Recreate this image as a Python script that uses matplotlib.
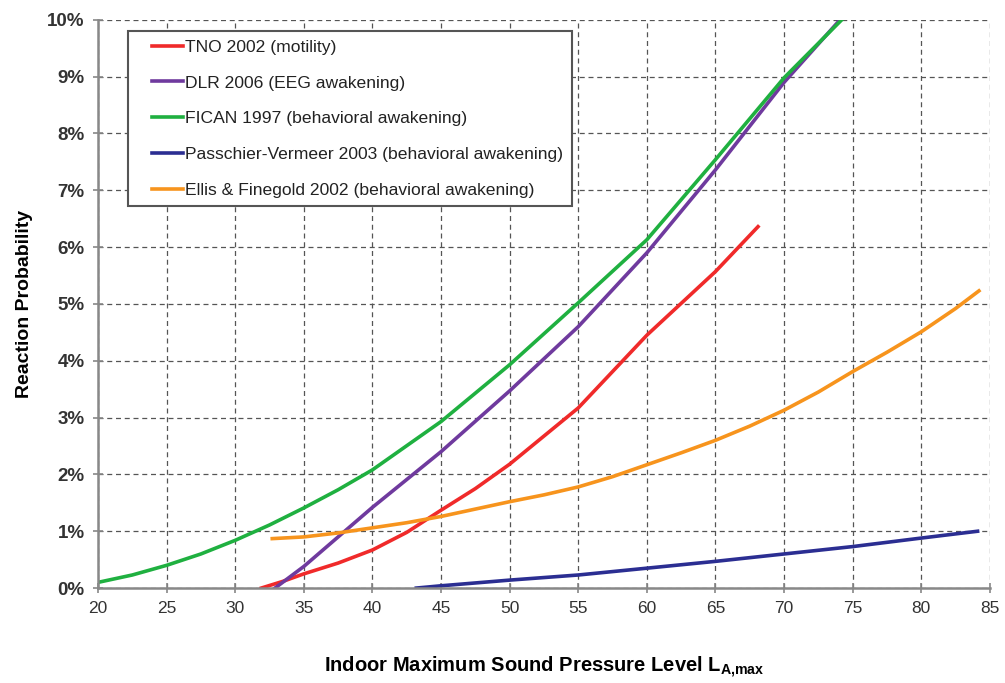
import numpy as np
from matplotlib import pyplot as plt
from matplotlib.lines import Line2D
from matplotlib.legend_handler import HandlerLine2D

plt.rcParams['font.family'] = ['Liberation Sans', 'DejaVu Sans']
plt.rcParams['mathtext.fontset'] = 'custom'
plt.rcParams['mathtext.rm'] = 'Liberation Sans:bold'
plt.rcParams['mathtext.it'] = 'Liberation Sans:bold'
plt.rcParams['mathtext.bf'] = 'Liberation Sans:bold'

# TNO 2002 (motility)
tno_x = [31.9, 33.5, 35, 37.5, 40, 42.5, 45, 47.5, 50, 55, 60, 65, 68.1]
tno_y = [0.0, 0.12, 0.25, 0.44, 0.67, 0.98, 1.37, 1.75, 2.18, 3.17, 4.45, 5.57, 6.36]

# DLR 2006 (EEG awakening)
dlr_x = [32.9, 35, 40, 45, 50, 55, 60, 65, 70, 74.0]
dlr_y = [0.0, 0.38, 1.42, 2.4, 3.47, 4.6, 5.9, 7.36, 8.9, 9.98]

# FICAN 1997 (behavioral awakening)
fican_x = [20, 22.5, 25, 27.5, 30, 32.5, 35, 37.5, 40, 45, 50, 55, 60, 65, 70, 74.2]
fican_y = [0.1, 0.23, 0.4, 0.6, 0.84, 1.11, 1.41, 1.73, 2.08, 2.93, 3.93, 5.02, 6.13, 7.54, 8.98, 10.0]

# Passchier-Vermeer 2003 (behavioral awakening)
pv_x = [43.2, 45, 50, 55, 60, 65, 70, 75, 80, 84.1]
pv_y = [0.0, 0.04, 0.14, 0.23, 0.35, 0.47, 0.6, 0.73, 0.88, 1.0]

# Ellis & Finegold 2002 (behavioral awakening)
ef_x = [32.7, 35, 37.5, 40, 42.5, 45, 47.5, 50, 52.5, 55, 57.5, 60, 62.5, 65,
        67.5, 70, 72.5, 75, 77.5, 80, 82.5, 84.2]
ef_y = [0.87, 0.9, 0.97, 1.06, 1.15, 1.26, 1.39, 1.52, 1.64, 1.78, 1.96, 2.17, 2.38, 2.6,
        2.85, 3.13, 3.45, 3.81, 4.15, 4.51, 4.92, 5.23]

plt.figure(1, figsize=(10.05, 6.83), dpi=100)
ax = plt.axes([0.0975, 0.139, 0.8875, 0.832])

ax.plot(tno_x, tno_y, color='#f02a2a', lw=2.6, label='TNO 2002 (motility)')
ax.plot(dlr_x, dlr_y, color='#6f3a9e', lw=2.6, label='DLR 2006 (EEG awakening)')
ax.plot(fican_x, fican_y, color='#1fb040', lw=2.6, label='FICAN 1997 (behavioral awakening)')
ax.plot(pv_x, pv_y, color='#2b2e92', lw=2.6, label='Passchier-Vermeer 2003 (behavioral awakening)')
ax.plot(ef_x, ef_y, color='#f7941d', lw=2.6, label='Ellis & Finegold 2002 (behavioral awakening)')

ax.set_xlim(20, 85)
ax.set_ylim(0, 10)
ax.set_xticks(range(20, 90, 5))
ax.set_yticks(range(0, 11))
ax.set_yticklabels([str(v) + '%' for v in range(0, 11)])

ax.grid(True, linestyle=(0, (4, 3)), color='#555555', lw=0.9)
for s in ['top', 'right']:
    ax.spines[s].set_visible(False)
for s in ['left', 'bottom']:
    ax.spines[s].set_color('#888888')
    ax.spines[s].set_linewidth(1.8)
ax.tick_params(direction='inout', length=7, width=1.2, color='#888888',
               labelsize=12.5, labelcolor='#333333', pad=6)
for t in ax.get_yticklabels():
    t.set_fontweight('bold')
    t.set_fontsize(13.5)

ax.set_ylabel('Reaction Probability', fontsize=14, fontweight='bold', labelpad=10)
ax.set_xlabel(r'Indoor Maximum Sound Pressure Level L$_{A{,}max}$', fontsize=14.5,
              fontweight='bold', labelpad=28)

# xpad trims the left part of the handle so it sits indented in the box
leg = ax.legend(loc='upper left', bbox_to_anchor=(0.034, 0.980), fontsize=12.6,
                handlelength=2.67, handletextpad=0.11, labelspacing=1.18,
                borderpad=0.47, borderaxespad=0, fancybox=False, framealpha=1,
                handler_map={Line2D: HandlerLine2D(xpad=0.9)})
leg.get_frame().set_edgecolor('#555555')
leg.get_frame().set_linewidth(1.5)
for t in leg.get_texts():
    t.set_color('#222222')

plt.savefig('out.png')
